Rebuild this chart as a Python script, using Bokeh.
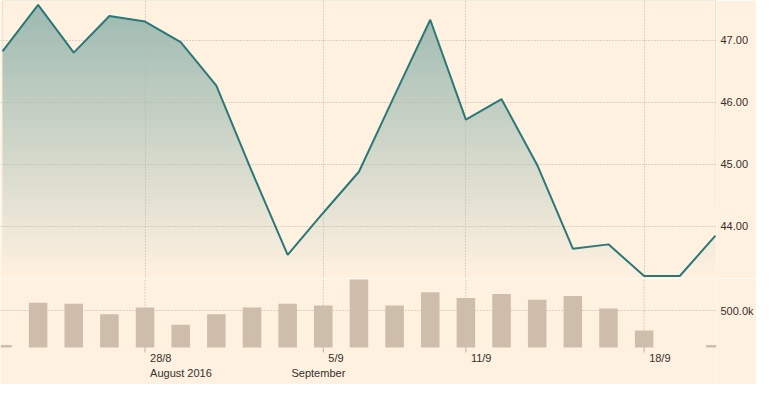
import numpy as np
from bokeh.plotting import figure
from bokeh.layouts import column
from bokeh.models import (Range1d, LinearAxis, FixedTicker, Grid,
                          NumeralTickFormatter)
from bokeh.core.properties import value
from bokeh.embed import file_html
from bokeh.resources import INLINE

# ---------------- data ----------------
idx = list(range(21))
price = [46.82, 47.57, 46.80, 47.39, 47.30, 46.97, 46.27, 44.88, 43.54, 44.22,
         44.88, 46.11, 47.33, 45.72, 46.05, 44.99, 43.64, 43.71, 43.20, 43.20, 43.85]
volume = [35000, 608000, 595000, 452000, 543000, 309000, 452000, 543000, 595000,
          569000, 921000, 569000, 751000, 673000, 725000, 647000, 699000, 530000,
          230000, 0, 35000]
tick_idx = [4, 9, 13, 18]
tick_day = ["28/8", "5/9", "11/9", "18/9"]
month_idx = [4, 9]
month_lbl = ["August 2016", "September"]
price_ticks = [44, 45, 46, 47]
vol_ticks = [500000]
vol_tick_lbl = ["500.0k"]

# ---------------- style ----------------
BG = "#fff1e0"
BG_RGB = (255, 241, 224)
GRID = "#b9b0a6"
TXT = "#33302e"
LINE = "#2a7878"
BAR = "#cebdab"
FONT = "Liberation Sans"
GRAD_TOP = (156, 185, 176)

W = 756
H_TOP = 278
H_BOT = 106
RB = 40
BOT_FRAME_VOL = 69      # px of the volume panel above the baseline
BOT_BELOW = H_BOT - BOT_FRAME_VOL   # px below the baseline (labels)

xr = Range1d(-0.055, 20.03)
yr_price = Range1d(43.16, 47.64)
VOL_TOP = 936000
VPP = VOL_TOP / BOT_FRAME_VOL       # volume units per pixel
yr_vol = Range1d(-BOT_BELOW * VPP, VOL_TOP)


def base_fig(h, yr):
    f = figure(width=W, height=h, x_range=xr, y_range=yr, output_backend="svg",
               toolbar_location=None, tools="", x_axis_location=None,
               y_axis_location=None, min_border=0, min_border_right=RB,
               background_fill_color=BG, border_fill_color=BG,
               outline_line_color=None)
    f.center = []
    return f


def grid(dim, ticks):
    return Grid(dimension=dim, ticker=FixedTicker(ticks=ticks),
                grid_line_color=GRID, grid_line_dash="1 2", grid_line_width=1)


def right_axis(f, ticks, formatter=None, overrides=None):
    ax = LinearAxis(ticker=FixedTicker(ticks=ticks), axis_line_color=None,
                    major_tick_line_color=None, minor_tick_line_color=None,
                    major_tick_in=0, major_tick_out=0, major_label_standoff=4,
                    major_label_text_font_size="11px", major_label_text_color=TXT,
                    major_label_text_font=FONT)
    if formatter is not None:
        ax.formatter = formatter
    if overrides is not None:
        ax.major_label_overrides = overrides
    f.add_layout(ax, "right")


# ---------------- price panel ----------------
p1 = base_fig(H_TOP, yr_price)
p1.add_layout(grid(1, price_ticks))
p1.add_layout(grid(0, tick_idx))
right_axis(p1, price_ticks, formatter=NumeralTickFormatter(format="0.00"))

# vertical gradient fill under the line (gradient image + cover above the line)
N = H_TOP
t = np.linspace(0.0, 1.0, N)[:, None]
img = np.empty((N, 1), dtype=np.uint32)
view = img.view(dtype=np.uint8).reshape((N, 1, 4))
for k in range(3):
    view[:, :, k] = np.round(BG_RGB[k] + (GRAD_TOP[k] - BG_RGB[k]) * t).astype(np.uint8)
view[:, :, 3] = 255
p1.image_rgba(image=[img], x=idx[0], y=yr_price.start, dw=idx[-1] - idx[0],
              dh=yr_price.end - yr_price.start, level="image")
p1.varea(x=idx, y1=price, y2=[yr_price.end] * len(idx), fill_color=BG,
         fill_alpha=1.0, level="image")
p1.line(idx, price, line_color=LINE, line_width=2)

# ---------------- volume panel ----------------
p2 = base_fig(H_BOT, yr_vol)
p2.add_layout(grid(1, vol_ticks))
right_axis(p2, vol_ticks, overrides={v: s for v, s in zip(vol_ticks, vol_tick_lbl)})

# vertical dotted grid lines down to the baseline, then solid tick marks
n = len(tick_idx)
p2.segment(x0=tick_idx, y0=[0] * n, x1=tick_idx, y1=[VOL_TOP] * n,
           line_color=GRID, line_dash="1 2", line_width=1, level="underlay")
p2.segment(x0=tick_idx, y0=[-5 * VPP] * n, x1=tick_idx, y1=[0] * n,
           line_color=GRID, line_width=1)

p2.vbar(x=idx, top=volume, width=0.52, fill_color=BAR, line_color=None)

p2.text(x=tick_idx, y=[-4 * VPP] * n, text=tick_day, x_offset=5,
        text_baseline="top", text_align="left", text_font_size="11px",
        text_color=TXT, text_font=value(FONT))
p2.text(x=month_idx, y=[-19 * VPP] * len(month_idx), text=month_lbl,
        x_offset=[5, 22], text_baseline="top", text_align=["left", "right"],
        text_font_size="11px", text_color=TXT, text_font=value(FONT))

layout = column(p1, p2, spacing=0)
open("out.html", "w").write(file_html(layout, INLINE))
